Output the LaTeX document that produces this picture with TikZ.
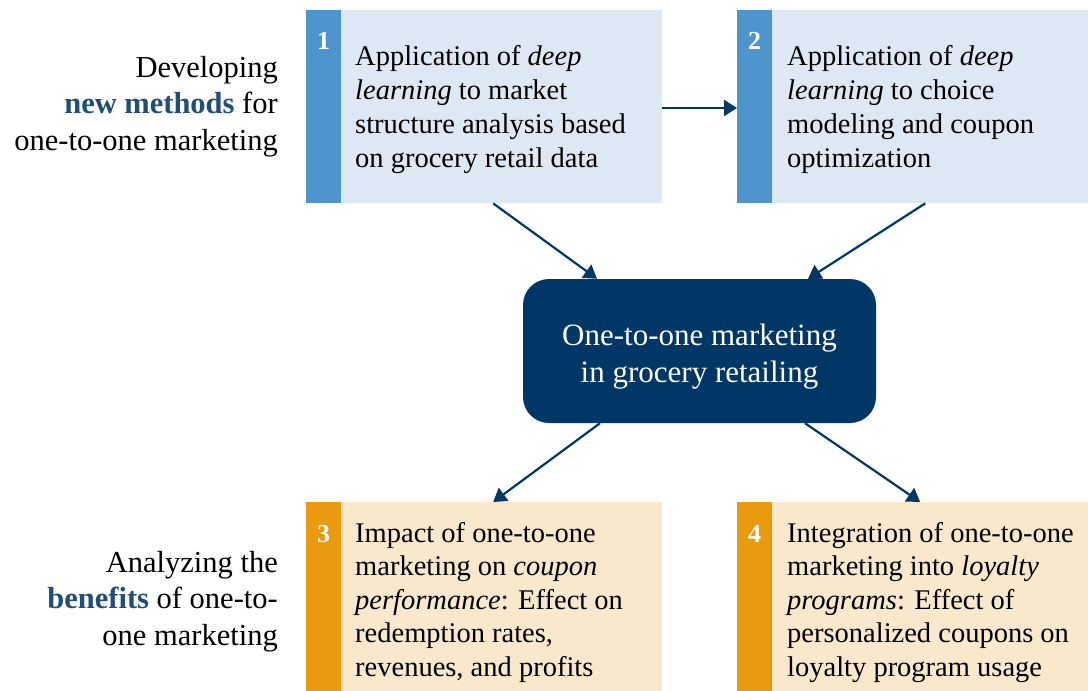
\documentclass[tikz,border=0pt]{standalone}
\usepackage{fontspec}
\setmainfont{Liberation Serif}
\usetikzlibrary{arrows.meta,calc}

\definecolor{navy}{HTML}{003767}
\definecolor{lightblue}{HTML}{DCE8F4}
\definecolor{stripblue}{HTML}{4E94CE}
\definecolor{lightorange}{HTML}{FAE8CC}
\definecolor{striporange}{HTML}{EA9A0E}
\definecolor{labelblue}{HTML}{1F4E79}

\begin{document}
\begin{tikzpicture}[x=1pt,y=-1pt,
  panel/.style={fill=#1, draw=none, inner sep=0pt, anchor=north west,
    minimum height=193pt},
  strip/.style={fill=#1, draw=none, inner sep=0pt, anchor=north west,
    minimum width=35pt, minimum height=193pt},
  num/.style={text=white, inner sep=0pt, anchor=base,
    font=\fontsize{26}{30}\selectfont\bfseries},
  boxtext/.style={inner sep=0pt, anchor=base west, align=left,
    font=\fontsize{28.5}{34}\selectfont},
  sidetext/.style={inner sep=0pt, anchor=base east, align=right,
    font=\fontsize{30.5}{36.5}\selectfont},
  hub/.style={fill=navy, draw=none, rounded corners=26pt,
    minimum width=353pt, minimum height=144pt, inner sep=0pt},
  hubtext/.style={text=white, inner sep=0pt, anchor=base, align=center,
    font=\fontsize{31}{37}\selectfont},
  arr/.style={draw=navy, line width=2.2pt,
    -{Triangle[length=13pt,width=16pt]}}
]
\useasboundingbox (0,0) rectangle (1088,691);

% upper row: new methods (text anchored at the last baseline)
\node[panel=lightblue, minimum width=356pt] (b1) at (306,10) {};
\node[strip=stripblue] (s1) at (b1.north west) {};
\node[num] (n1) at ($(s1.north)+(0,39)$) {1};
\node[boxtext] (t1) at (355,167)
  {Application of \emph{deep}\\ \emph{learning} to market\\ structure analysis based\\ on grocery retail data};

\node[panel=lightblue, minimum width=351pt] (b2) at (737,10) {};
\node[strip=stripblue] (s2) at (b2.north west) {};
\node[num] (n2) at ($(s2.north)+(0,39)$) {2};
\node[boxtext] (t2) at (787,167)
  {Application of \emph{deep}\\ \emph{learning} to choice\\ modeling and coupon\\ optimization};

% lower row: benefits
\node[panel=lightorange, minimum width=356pt, minimum height=189pt] (b3) at (306,502) {};
\node[strip=striporange, minimum height=189pt] (s3) at (b3.north west) {};
\node[num] (n3) at ($(s3.north)+(0,40)$) {3};
\node[boxtext, font=\fontsize{28.5}{33.5}\selectfont] (t3) at (355,676)
  {Impact of one-to-one\\ marketing on \emph{coupon}\\ \emph{performance}: Effect on\\ redemption rates,\\ revenues, and profits};

\node[panel=lightorange, minimum width=351pt, minimum height=189pt] (b4) at (737,502) {};
\node[strip=striporange, minimum height=189pt] (s4) at (b4.north west) {};
\node[num] (n4) at ($(s4.north)+(0,40)$) {4};
\node[boxtext, font=\fontsize{28.5}{33.5}\selectfont] (t4) at (787,676)
  {Integration of one-to-one\\ marketing into \emph{loyalty}\\ \emph{programs}: Effect of\\ personalized coupons on\\ loyalty program usage};

% central topic
\node[hub] (c) at (699.5,351) {};
\node[hubtext] (ct) at (699.5,382)
  {One-to-one marketing\\ in grocery retailing};

% row labels
\node[sidetext] (l1) at (278,150)
  {Developing\\ \textcolor{labelblue}{\bfseries new methods} for\\ one-to-one marketing};
\node[sidetext] (l2) at (278,645)
  {Analyzing the\\ \textcolor{labelblue}{\bfseries benefits} of one-to-\\ one marketing};

% connectors
\draw[arr] (b1.east |- 0,108) -- (b2.west |- 0,108);
\draw[arr] ([xshift=9pt]b1.south) -- ([xshift=-102.5pt]c.north);
\draw[arr] ([xshift=12.5pt]b2.south) -- ([xshift=108.5pt]c.north);
\draw[arr] ([xshift=-99.5pt]c.south) -- ([xshift=9pt]b3.north);
\draw[arr] ([xshift=105.5pt]c.south) -- ([xshift=7.5pt]b4.north);
\end{tikzpicture}
\end{document}
